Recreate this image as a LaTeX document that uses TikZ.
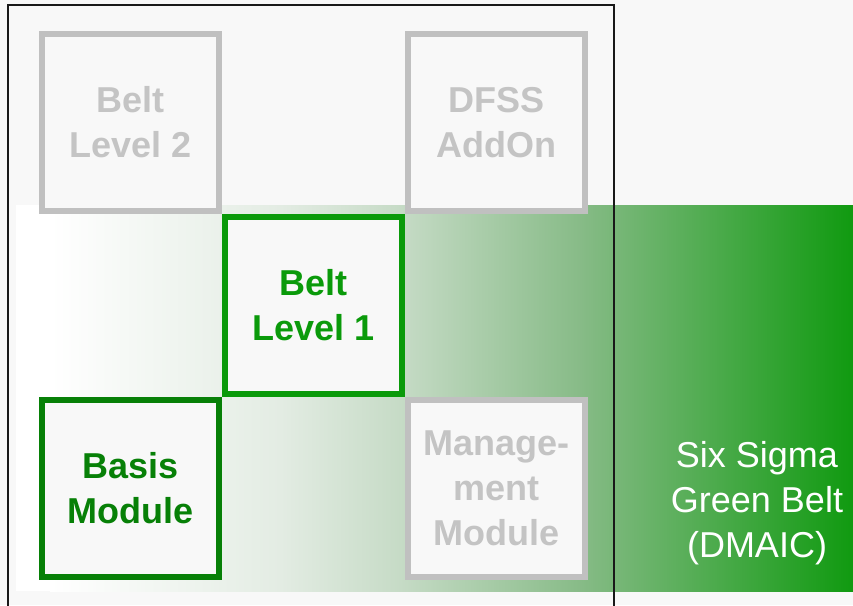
\documentclass[tikz,border=0pt]{standalone}
\usepackage{fontspec}
\setmainfont{Liberation Sans}
\usepackage{tikz}
\usetikzlibrary{positioning}
\definecolor{pagebg}{HTML}{F8F8F8}
\definecolor{greyline}{HTML}{C0C0C0}
\definecolor{greytext}{HTML}{C4C4C4}
\definecolor{darkgreen}{HTML}{078007}
\definecolor{lightgreen}{HTML}{0A9A0A}
\definecolor{bandA}{HTML}{E3ECE3}
\definecolor{bandB}{HTML}{C6DBC6}
\definecolor{bandC}{HTML}{87BB87}
\definecolor{bandD}{HTML}{109A10}
\tikzset{d/.style={line width=1.5pt}}

\begin{document}
\begin{tikzpicture}[x=1pt,y=-1pt,
modulebox/.style={rectangle, fill=pagebg, line width=6pt, minimum size=177pt, inner sep=0pt, align=center, font=\bfseries\fontsize{36pt}{45pt}\selectfont},
greybox/.style={modulebox, draw=greyline, text=greytext},
basisbox/.style={modulebox, draw=darkgreen, text=darkgreen},
levelbox/.style={modulebox, draw=lightgreen, text=lightgreen},
node distance=0pt and 0pt,
]
\useasboundingbox (0,0) rectangle (853,605);
\clip (0,0) rectangle (853,605);
\fill[pagebg] (0,0) rectangle (853,605);

%Band
\fill[white] (16,205) rectangle (50.5,591);
\shade[left color=white, right color=bandA] (50,205) rectangle (280.5,591);
\shade[left color=bandA, right color=bandB] (280,205) rectangle (400.5,591);
\shade[left color=bandB, right color=bandC] (400,205) rectangle (580.5,591);
\shade[left color=bandC, right color=bandD] (580,205) rectangle (853,591);

%Frame
\draw[d, black!90] (8,5) rectangle (614,640);

%Nodes
\node[basisbox]        (basis)    at (130.5,488.5)                {Basis\\Module};
\node[levelbox]        (level1)   [above right=of basis]          {Belt\\Level 1};
\node[greybox]         (management) [below right=of level1]       {Manage-\\ment\\Module};
\node[greybox]         (level2)   [above left=of level1]          {Belt\\Level 2};
\node[greybox]         (dfss)     [above right=of level1]         {DFSS\\AddOn};
\node[text=white, align=center, font=\fontsize{36pt}{45pt}\selectfont] (greenbelt) at (757,503) {Six Sigma\\Green Belt\\(DMAIC)};
\end{tikzpicture}
\end{document}
